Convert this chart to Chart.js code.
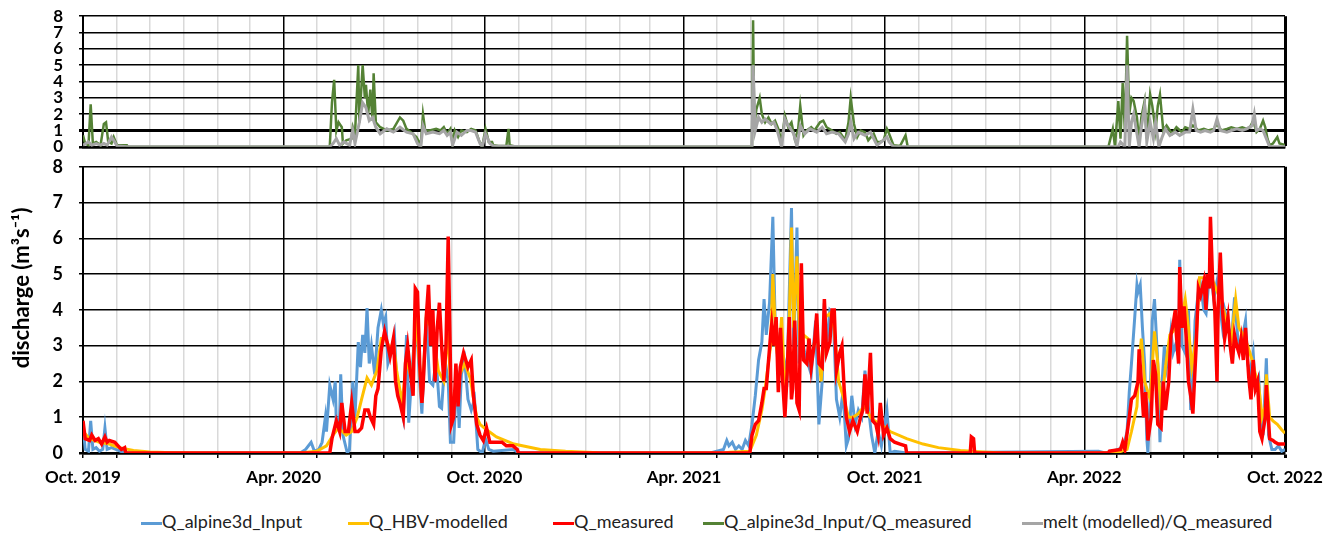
<!DOCTYPE html>
<head>
    <title>Discharge and ratios</title>
    <script src="https://cdn.jsdelivr.net/npm/chart.js"></script>
    <style>
        body { margin: 0; background: #fff; font-family: Lato, sans-serif; overflow: hidden; }
        .wrap { position: relative; width: 1333px; height: 536px; overflow: hidden; }
        #ratioChart { position: absolute; left: 0; top: -10px; }
        #qChart { position: absolute; left: 0; top: 140px; }
        .legend { position: absolute; top: 510px; left: 0; width: 1333px; height: 24px; font-size: 18px; color: #222; }
        .legend span.item { position: absolute; white-space: nowrap; }
        .legend i { display: inline-block; width: 21px; height: 3px; vertical-align: middle; margin-right: 0; }
    </style>
</head>
<body>
<div class="wrap">
    <canvas id="ratioChart" width="1333" height="183"></canvas>
    <canvas id="qChart" width="1333" height="360"></canvas>
    <div class="legend" id="legend"></div>
</div>

<script>
    // days counted from 1 Oct 2019
    const monthStarts = [0, 31, 61, 92, 123, 152, 183, 213, 244, 274, 305, 336,
        366, 397, 427, 458, 489, 517, 548, 578, 609, 639, 670, 701,
        731, 762, 792, 823, 854, 882, 913, 943, 974, 1004, 1035, 1066, 1096];
    const labelDays = [0, 183, 366, 548, 731, 913, 1096];
    const labelTexts = ['Oct. 2019', 'Apr. 2020', 'Oct. 2020', 'Apr. 2021', 'Oct. 2021', 'Apr. 2022', 'Oct. 2022'];

    // [day, discharge m3/s]
    const alpineQ = [[0,0.8],[2,0.1],[5,0.05],[7,0.9],[9,0.1],[12,0.15],[15,0.05],[18,0.1],[20,0.7],[22,0.1],[26,0.15],[30,0.1],[34,0.05],[38,0],
        [198,0],[203,0.1],[208,0.3],[211,0.05],[215,0.1],[218,0.3],[221,1.0],[222,0.6],[225,1.9],[228,1.5],[230,2.0],[231,0.8],[234,1.0],[235,2.2],[237,0.5],[241,0],[243,0.1],[246,2.0],[248,1.0],[251,3.1],[253,2.4],[255,3.3],[257,2.8],[259,4.05],[261,2.5],[263,3.0],[266,2.2],[269,3.5],[272,4.0],[274,3.6],[276,3.8],[278,2.5],[281,2.8],[284,3.3],[286,2.0],[289,1.5],[292,1.0],[295,3.3],[297,0.85],[300,2.3],[303,3.5],[304,3.7],[307,2.0],[309,1.1],[311,2.5],[313,3.8],[316,2.0],[319,1.9],[322,2.6],[325,1.3],[327,1.25],[330,2.6],[333,2.0],[335,0.3],[338,0.3],[341,2.3],[343,0.7],[345,2.2],[348,2.6],[351,1.5],[354,1.2],[357,1.5],[360,0.1],[364,0],[367,0.4],[370,0.1],[374,0.05],[392,0.1],[398,0],
        [572,0],[578,0.05],[584,0.1],[587,0.35],[589,0.2],[592,0.3],[595,0.1],[598,0.2],[601,0.1],[604,0.35],[607,0.2],[610,0.8],[613,1.6],[616,2.6],[619,3.1],[621,4.3],[623,3.3],[626,4.2],[629,6.6],[631,3.8],[633,2.8],[636,3.4],[638,2.0],[640,2.5],[642,2.2],[644,4.5],[646,6.85],[648,3.0],[651,6.3],[653,2.5],[655,3.3],[658,2.8],[661,2.5],[664,2.2],[668,3.7],[671,0.8],[674,2.0],[676,4.2],[678,3.0],[681,4.0],[684,3.9],[687,1.5],[690,1.0],[693,1.7],[696,0.2],[698,0.4],[701,1.6],[704,0.8],[707,1.2],[710,1.0],[713,2.3],[716,1.3],[719,0.5],[722,0],[725,0.6],[728,0.2],[733,1.2],[736,0],[740,0.05],[751,0],
        [926,0.05],[932,0],[944,0.1],[949,0.2],[952,0.6],[954,1.7],[956,2.5],[959,3.8],[961,4.7],[962,4.5],[964,4.7],[966,3.5],[968,2.5],[970,0.4],[971,0],[973,1.5],[975,3.7],[977,4.3],[980,2.5],[982,0.3],[984,2.0],[986,3.0],[988,2.4],[990,2.8],[992,3.4],[994,2.8],[996,3.0],[999,2.7],[1000,5.4],[1002,3.0],[1005,2.8],[1008,4.0],[1010,1.2],[1012,1.8],[1014,3.7],[1017,4.5],[1019,4.7],[1022,4.0],[1024,3.9],[1026,4.6],[1029,4.9],[1031,4.3],[1034,4.8],[1037,4.0],[1039,3.5],[1041,4.0],[1044,3.6],[1046,3.2],[1048,3.5],[1050,4.35],[1053,3.2],[1055,3.0],[1057,3.2],[1060,3.7],[1062,2.5],[1064,2.2],[1067,2.8],[1069,1.8],[1072,2.1],[1074,1.0],[1076,0.5],[1079,2.65],[1081,0.5],[1084,0.1],[1087,0.1],[1090,0.2],[1093,0.05],[1096,0.1]];

    const hbvQ = [[0,0.6],[6,0.4],[15,0.3],[24,0.25],[33,0.15],[46,0.07],[61,0.03],[82,0.01],[110,0],
        [198,0],[213,0.05],[222,0.2],[228,0.5],[233,0.7],[240,0.5],[245,0.6],[250,1.0],[254,1.5],[259,2.1],[263,1.9],[268,2.3],[272,3.2],[276,3.2],[280,2.9],[283,3.1],[286,2.3],[291,1.4],[295,2.6],[300,2.0],[304,3.8],[309,1.4],[313,3.8],[319,3.4],[324,2.3],[329,2.0],[333,3.5],[336,1.0],[341,2.0],[345,2.3],[348,2.5],[353,2.1],[359,1.0],[362,0.8],[368,0.65],[377,0.45],[393,0.25],[417,0.1],[440,0.05],[470,0.01],[500,0],
        [584,0],[590,0.02],[608,0.05],[614,0.5],[619,1.2],[622,1.8],[627,3.0],[629,5.0],[632,3.0],[634,2.6],[637,3.8],[640,1.8],[643,2.5],[646,6.3],[648,3.5],[651,5.5],[654,2.8],[657,3.3],[661,3.2],[664,2.5],[669,3.5],[673,2.0],[677,3.8],[681,3.9],[685,3.5],[689,2.0],[693,1.6],[698,1.0],[702,1.0],[707,1.1],[712,1.3],[715,1.2],[718,1.0],[722,0.9],[728,0.8],[736,0.6],[751,0.4],[766,0.25],[780,0.15],[800,0.07],[820,0.03],[840,0],
        [930,0],[944,0.02],[952,0.1],[956,0.6],[961,1.3],[963,2.5],[965,3.2],[968,2.0],[973,1.5],[977,3.4],[980,2.5],[983,1.2],[987,2.4],[991,3.3],[994,3.4],[999,3.8],[1002,3.8],[1005,4.3],[1008,3.5],[1011,2.4],[1015,3.2],[1018,4.9],[1022,4.9],[1026,4.7],[1029,4.9],[1033,4.6],[1037,4.3],[1040,4.0],[1044,3.5],[1047,3.1],[1051,4.3],[1054,3.5],[1058,3.3],[1062,3.0],[1066,2.6],[1069,2.2],[1072,1.9],[1075,1.0],[1078,1.3],[1079,2.2],[1082,1.0],[1085,0.9],[1089,0.8],[1093,0.65],[1096,0.55]];

    const measuredQ = [[0,0.9],[2,0.4],[6,0.35],[8,0.5],[11,0.35],[14,0.4],[17,0.25],[20,0.45],[22,0.3],[24,0.35],[29,0.3],[32,0.2],[35,0.1],[38,0.15],[39,0],
        [225,0],[227,0.4],[231,0.9],[234,0.6],[236,1.4],[239,0.6],[242,0.6],[245,1.4],[248,0.6],[251,0.6],[254,0.7],[257,1.2],[260,1.2],[262,1.0],[265,0.8],[267,1.6],[269,1.8],[272,2.9],[275,3.4],[278,3.0],[280,2.7],[283,3.2],[285,2.0],[287,1.6],[289,1.4],[292,1.0],[294,2.5],[296,3.0],[298,2.4],[301,1.6],[303,4.6],[305,4.5],[307,2.5],[309,1.4],[310,1.8],[313,3.8],[315,4.7],[317,3.0],[319,4.0],[321,2.0],[323,3.5],[325,4.2],[327,3.0],[329,2.0],[331,3.0],[333,6.05],[335,2.5],[336,0.8],[338,1.0],[340,2.5],[342,1.3],[344,2.4],[347,2.8],[349,2.6],[351,2.4],[354,2.6],[356,1.6],[359,0.8],[362,0.5],[365,0.35],[368,0.7],[371,0.3],[377,0.3],[382,0.3],[386,0.2],[392,0.2],[396,0.1],[397,0],
        [608,0],[610,0.5],[613,0.8],[616,0.9],[619,1.4],[621,1.8],[623,1.8],[627,3.3],[628,3.6],[630,3.0],[632,3.8],[634,1.7],[636,3.5],[638,2.0],[640,1.0],[642,2.2],[644,3.8],[646,1.5],[647,1.8],[649,3.7],[651,1.4],[653,1.2],[655,5.3],[657,2.6],[660,2.5],[662,3.2],[664,2.4],[667,3.1],[669,3.9],[671,2.5],[674,2.4],[676,4.3],[678,2.8],[681,3.1],[683,4.0],[685,4.0],[687,2.3],[690,2.8],[692,3.0],[694,1.8],[696,1.0],[699,0.6],[702,0.9],[706,0.6],[709,1.0],[711,1.2],[713,2.2],[715,1.1],[718,2.8],[720,0.9],[723,0.8],[725,0.5],[727,1.4],[730,0.5],[733,0.7],[736,0.4],[740,0.3],[745,0.25],[750,0.2],[751,0],
        [809,0],[810,0.45],[812,0.4],[813,0],
        [935,0],[936,0.05],[946,0.1],[948,0.3],[950,0.1],[954,1.0],[956,1.5],[959,1.6],[962,2.0],[963,2.9],[965,2.0],[967,1.0],[969,1.7],[971,0.35],[974,1.0],[976,2.6],[978,2.2],[980,0.8],[983,0.7],[985,2.0],[987,1.2],[990,2.0],[992,3.3],[994,3.6],[996,4.0],[997,3.3],[999,2.5],[1000,5.2],[1002,3.5],[1004,4.1],[1006,3.2],[1008,2.0],[1010,1.6],[1012,1.1],[1015,3.0],[1017,4.6],[1019,4.4],[1022,4.8],[1024,4.0],[1025,5.0],[1027,4.6],[1028,6.6],[1030,4.8],[1032,4.0],[1034,2.0],[1035,4.0],[1037,5.6],[1039,4.0],[1041,3.2],[1044,3.8],[1046,3.0],[1048,2.5],[1050,3.3],[1052,3.0],[1054,2.8],[1056,3.2],[1058,2.6],[1060,3.5],[1063,2.1],[1065,1.5],[1067,2.6],[1069,1.8],[1071,2.0],[1073,0.6],[1075,0.4],[1078,1.0],[1079,1.9],[1081,0.9],[1082,0.4],[1085,0.35],[1087,0.3],[1090,0.25],[1093,0.25],[1096,0.25]];

    // [day, ratio]
    const alpineRatio = [[0,0.7],[2,0.2],[5,0.1],[7,2.6],[9,0.2],[12,0.3],[16,0.1],[19,1.4],[21,1.5],[23,0.3],[26,0.2],[28,0.6],[31,0.1],[35,0.1],[40,0.1],[41,0],
        [225,0],[227,2.7],[229,4.1],[231,1.0],[233,1.5],[236,1.2],[237,0.2],[240,0.4],[245,0.5],[246,1.2],[248,0.8],[251,5.0],[252,1.5],[255,5.0],[257,3.0],[258,3.8],[260,2.0],[262,3.5],[264,1.6],[265,4.5],[267,1.5],[271,1.2],[277,1.0],[283,1.1],[289,1.8],[292,1.6],[295,1.1],[299,0.9],[304,0.6],[308,0.1],[310,2.0],[312,1.0],[316,1.0],[322,1.1],[326,1.0],[329,1.2],[332,0.8],[335,1.1],[337,0.2],[339,1.0],[342,0.6],[345,1.0],[350,0.9],[354,1.1],[358,1.0],[361,0.4],[364,0],[367,1.1],[370,0.3],[373,0.3],[374,0.1],[379,0.05],[386,0.05],[388,1.1],[389,0.1],[395,0],
        [610,0],[611,7.75],[612,1.2],[614,2.3],[617,3.0],[619,2.0],[622,1.5],[625,1.8],[628,1.4],[631,1.6],[634,1.1],[637,0.3],[640,1.9],[643,1.2],[646,1.5],[649,0.5],[652,1.0],[654,2.5],[657,0.7],[660,1.0],[664,1.2],[667,1.0],[672,1.5],[675,1.6],[678,1.2],[683,1.0],[687,0.8],[690,0.9],[695,0.4],[698,1.5],[700,3.0],[703,1.4],[706,0.6],[709,1.0],[713,0.9],[716,0.4],[721,0.8],[724,0.3],[727,0.3],[730,0.4],[733,1.1],[735,0.8],[739,0.1],[745,0.05],[750,0.7],[752,0],
        [935,0],[939,1.1],[941,0],[944,2.8],[946,0.5],[948,3.9],[950,1.0],[952,6.8],[954,2.0],[956,3.0],[958,2.8],[961,1.8],[963,0.3],[965,1.8],[968,2.8],[970,0.5],[973,3.2],[975,2.5],[978,1.0],[980,2.5],[982,3.2],[985,1.0],[988,1.3],[993,0.8],[997,1.2],[1002,0.9],[1005,1.2],[1009,1.1],[1012,1.3],[1017,1.0],[1022,1.1],[1026,1.0],[1031,1.1],[1034,1.4],[1038,1.0],[1043,1.1],[1047,1.2],[1052,1.1],[1057,1.2],[1061,1.1],[1064,1.2],[1067,1.6],[1070,0.9],[1073,1.1],[1076,1.6],[1078,1.2],[1080,0.5],[1082,0.1],[1085,0.2],[1089,0.6],[1091,0.2],[1096,0.1]];

    const meltRatio = [[0,0.1],[5,0.3],[8,0.1],[12,0.2],[16,0.1],[19,0.2],[22,0.1],[26,0.6],[28,0.4],[31,0.05],[40,0],
        [225,0],[228,0.2],[231,0.5],[234,0.1],[238,0.3],[243,0.1],[246,1.0],[248,0.2],[252,1.5],[255,2.7],[258,2.4],[261,1.6],[264,1.8],[267,1.2],[271,0.8],[277,1.1],[283,0.9],[289,1.2],[295,0.9],[301,0.8],[305,0.2],[308,0],[310,1.3],[313,0.8],[319,0.9],[325,0.8],[329,1.0],[332,0.7],[335,0.9],[337,0.1],[341,0.9],[345,0.7],[350,1.0],[354,1.0],[358,0.9],[362,0.2],[364,0],[367,0.8],[371,0.2],[374,0.05],[395,0.02],[397,0],
        [610,0],[611,5.0],[613,1.0],[616,1.8],[619,1.5],[622,1.7],[627,1.4],[630,1.5],[633,1.0],[637,0],[640,1.7],[643,1.3],[648,0.8],[651,0],[654,1.3],[658,0.8],[663,1.1],[669,0.9],[674,1.2],[678,0.8],[683,0.9],[689,0.8],[695,0.3],[698,0.8],[700,1.5],[703,0.5],[707,0.9],[713,0.7],[718,0.9],[724,0.1],[728,0.3],[733,0.6],[735,0.3],[739,0],
        [944,0],[946,0.3],[950,0],[952,5.0],[954,0],[956,1.5],[958,2.0],[961,0.8],[963,0],[965,1.2],[968,2.5],[970,0.3],[973,1.5],[976,0.5],[978,1.5],[981,0],[984,0.6],[987,1.1],[991,0.7],[996,0.9],[1000,0.7],[1005,0.9],[1009,0.9],[1012,2.3],[1015,1.0],[1019,0.9],[1023,1.0],[1028,0.9],[1031,1.0],[1034,1.7],[1037,1.0],[1043,0.9],[1047,1.0],[1052,1.1],[1057,1.0],[1061,1.1],[1066,1.3],[1068,2.0],[1070,1.0],[1073,1.1],[1076,1.0],[1079,0.5],[1082,0],[1096,0]];

    const series = [
        { name: 'Q_alpine3d_Input', color: '#5B9BD5' },
        { name: 'Q_HBV-modelled', color: '#FFC000' },
        { name: 'Q_measured', color: '#FF0000' },
        { name: 'Q_alpine3d_Input/Q_measured', color: '#548235' },
        { name: 'melt (modelled)/Q_measured', color: '#A5A5A5' }
    ];
    const yTitle = 'discharge (m³s⁻¹)';

    Chart.defaults.font.family = 'Lato, sans-serif';
    Chart.defaults.color = '#000';

    const pts = arr => arr.map(p => ({ x: p[0], y: p[1] }));

    function line(data, s, order, width) {
        return {
            label: s.name, data: pts(data), borderColor: s.color, backgroundColor: s.color,
            borderWidth: width, pointRadius: 0, tension: 0, order: order, fill: false
        };
    }

    function xAxis(showLabels) {
        return {
            type: 'linear', min: 0, max: 1096,
            afterBuildTicks: s => { s.ticks = monthStarts.map(v => ({ value: v })); },
            afterFit: s => { s.height = showLabels ? 47 : 0; },
            grid: {
                color: c => labelDays.includes(c.tick.value) ? '#000' : '#d9d9d9',
                lineWidth: c => c.tick.value === 1096 ? 3 : 1.5,
                drawTicks: showLabels, tickLength: 5, tickColor: '#000'
            },
            border: { color: '#000', width: 2.5 },
            ticks: {
                display: showLabels, autoSkip: false, maxRotation: 0, padding: 9,
                font: { size: 17, weight: 'bold' },
                callback: v => { const i = labelDays.indexOf(v); return i >= 0 ? labelTexts[i] : ''; }
            }
        };
    }

    function yAxis(thick, fontSize) {
        return {
            min: 0, max: 8,
            afterFit: s => { s.width = 83; },
            grid: {
                color: '#000',
                lineWidth: c => c.tick.value === thick ? 3 : (c.tick.value === 0 ? 2.5 : 1.5),
                tickLength: 4, tickColor: '#000'
            },
            border: { color: '#000', width: 2 },
            ticks: { stepSize: 1, autoSkip: false, padding: 16, font: { size: fontSize, weight: 'bold' } }
        };
    }

    // axis title sits a little above the middle of the lower panel, as in the original
    const sideTitle = {
        id: 'sideTitle',
        afterDraw(chart) {
            const ctx = chart.ctx, a = chart.chartArea;
            ctx.save();
            ctx.translate(22, (a.top + a.bottom) / 2 - 22);
            ctx.rotate(-Math.PI / 2);
            ctx.font = 'bold 22px Lato, sans-serif';
            ctx.fillStyle = '#000';
            ctx.textAlign = 'center';
            ctx.textBaseline = 'middle';
            ctx.fillText(yTitle, 0, 0);
            ctx.restore();
        }
    };

    new Chart(document.getElementById('ratioChart'), {
        type: 'line',
        data: {
            datasets: [
                line(alpineRatio, series[3], 1, 2.5),
                line(meltRatio, series[4], 0, 3)
            ]
        },
        options: {
            responsive: false, animation: false,
            layout: { padding: { top: 6, right: 48, bottom: 5, left: 0 } },
            plugins: { legend: { display: false }, tooltip: { enabled: false } },
            scales: { x: xAxis(false), y: yAxis(1, 17) }
        }
    });

    new Chart(document.getElementById('qChart'), {
        type: 'line',
        data: {
            datasets: [
                line(alpineQ, series[0], 2, 3),
                line(hbvQ, series[1], 1, 3),
                line(measuredQ, series[2], 0, 3.5)
            ]
        },
        options: {
            responsive: false, animation: false,
            layout: { padding: { top: 6, right: 48, bottom: 0, left: 0 } },
            plugins: { legend: { display: false }, tooltip: { enabled: false } },
            scales: { x: xAxis(true), y: yAxis(-1, 18) }
        },
        plugins: [sideTitle]
    });

    // legend
    const legendLeft = [141, 348, 553, 703, 1022];
    const legend = document.getElementById('legend');
    series.forEach((s, i) => {
        const item = document.createElement('span');
        item.className = 'item';
        item.style.left = legendLeft[i] + 'px';
        item.innerHTML = `<i style="background:${s.color}"></i>${s.name}`;
        legend.appendChild(item);
    });
</script>
</body>
</html>
